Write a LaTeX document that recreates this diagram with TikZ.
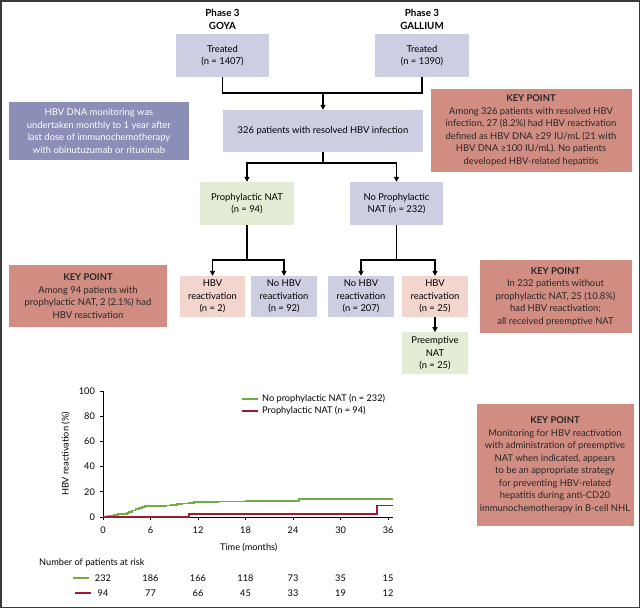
\documentclass[tikz,border=0pt]{standalone}
\usepackage{fontspec}
\setmainfont{Lato}
\setsansfont{Lato}
\usepackage{tikz}
\usetikzlibrary{positioning, arrows.meta}
\definecolor{lav}{HTML}{CDCEE1}
\definecolor{slate}{HTML}{8B8EB6}
\definecolor{mint}{HTML}{E3EDD5}
\definecolor{blush}{HTML}{F2D5CD}
\definecolor{salmon}{HTML}{D28D83}
\definecolor{kmgreen}{HTML}{6FAE45}
\definecolor{kmred}{HTML}{A3182F}
\definecolor{rim}{HTML}{3A3A3A}

\begin{document}
\begin{tikzpicture}[x=1pt, y=-1pt,
  font=\sffamily\fontsize{9.4}{12.5}\selectfont,
  every node/.style={align=center},
  box/.style={rectangle, fill=lav, inner sep=1pt, minimum height=43pt},
  sub/.style={box, minimum width=66pt, minimum height=41pt},
  keypt/.style={rectangle, fill=salmon, text=black!85, inner sep=0pt},
  head/.style={font=\sffamily\bfseries\fontsize{9.8}{13}\selectfont},
  link/.style={line width=1.2pt, draw=black},
  arr/.style={link, -{Triangle[length=5pt, width=5pt]}},
  kmg/.style={line width=1.8pt, draw=kmgreen},
  kmr/.style={line width=1.8pt, draw=kmred},
  tick/.style={font=\sffamily\fontsize{9.2}{10}\selectfont, inner sep=0pt}
]
  \useasboundingbox (0,0) rectangle (640,608);
  \draw[rim, line width=1.5pt] (0.75,0.75) rectangle (639.25,607.25);

  % trials
  \node[box, minimum width=93pt] (goya) at (222.5,55.5) {Treated\\(n = 1407)};
  \node[box, minimum width=94pt] (gallium) at (422,55.5) {Treated\\(n = 1390)};
  \node[head, above=1pt of goya] (goyaT) {Phase 3\\GOYA};
  \node[head, above=1pt of gallium] (galliumT) {Phase 3\\GALLIUM};

  \node[box, minimum width=200pt, minimum height=42pt] (n326) at (323,131)
    {326 patients with resolved HBV infection};
  \node[box, fill=slate, text=white, minimum width=180pt, minimum height=58pt] (monitor) at (99,131)
    {HBV DNA monitoring was\\undertaken monthly to 1 year after\\last dose of immunochemotherapy\\with obinutuzumab or rituximab};
  \node[keypt, minimum width=201pt, minimum height=83pt] (kp1) at (531,130.5)
    {\textbf{KEY POINT}\\Among 326 patients with resolved HBV\\infection, 27 (8.2\%) had HBV reactivation\\defined as HBV DNA ≥29 IU/mL (21 with\\HBV DNA ≥100 IU/mL). No patients\\developed HBV-related hepatitis};

  % NAT arms
  \node[box, fill=mint, minimum width=94pt] (proph) at (247,203.5) {Prophylactic NAT\\(n = 94)};
  \node[box, minimum width=93pt] (noproph) at (396.5,203.5) {No Prophylactic\\NAT (n = 232)};

  \node[sub, fill=blush, minimum width=65pt] (hbvA) at (212.5,296.5) {HBV\\reactivation\\(n = 2)};
  \node[sub] (nohbvA) at (284,296.5) {No HBV\\reactivation\\(n = 92)};
  \node[sub] (nohbvB) at (361,296.5) {No HBV\\reactivation\\(n = 207)};
  \node[sub, fill=blush] (hbvB) at (435,296.5) {HBV\\reactivation\\(n = 25)};
  \node[sub, fill=mint, minimum height=42pt, below=15pt of hbvB] (preempt) {Preemptive\\NAT\\(n = 25)};

  \node[keypt, minimum width=158pt, minimum height=62pt] (kp2) at (88,296)
    {\textbf{KEY POINT}\\Among 94 patients with\\prophylactic NAT, 2 (2.1\%) had\\HBV reactivation};
  \node[keypt, minimum width=152pt, minimum height=73pt] (kp3) at (555.5,296.5)
    {\textbf{KEY POINT}\\In 232 patients without\\prophylactic NAT, 25 (10.8\%)\\had HBV reactivation;\\all received preemptive NAT};
  \node[keypt, minimum width=157pt, minimum height=122pt] (kp4) at (555,465)
    {\textbf{KEY POINT}\\Monitoring for HBV reactivation\\with administration of preemptive\\NAT when indicated, appears\\to be an appropriate strategy\\for preventing HBV-related\\hepatitis during anti-CD20\\immunochemotherapy in B-cell NHL};

  % connectors
  \coordinate (j1) at (323,93);
  \coordinate (j2) at (323,163);
  \coordinate (j3) at (247,260);
  \coordinate (j4) at (396.5,260);
  \draw[link] (goya.south) |- (j1) -| (gallium.south);
  \draw[arr] (j1) -- (n326.north);
  \draw[link] (n326.south) -- (j2);
  \draw[arr] (j2) -| (proph.north);
  \draw[arr] (j2) -| (noproph.north);
  \draw[link] (proph.south) -- (j3);
  \draw[arr] (j3) -| (hbvA.north);
  \draw[arr] (j3) -| (nohbvA.north);
  \draw[link] (noproph.south) -- (j4);
  \draw[arr] (j4) -| (nohbvB.north);
  \draw[arr] (j4) -| (hbvB.north);
  \draw[arr] (hbvB.south) -- (preempt.north);

  % Kaplan-Meier plot
  \begin{scope}[shift={(103,517)}, x=7.92pt, y=1.26pt]
    \draw[line width=0.9pt] (0,0) -- (36.6,0);
    \draw[line width=0.9pt] (0,0) -- (0,100);
    \foreach \t in {0,6,...,36} {
      \draw[line width=0.8pt] (\t,0) -- (\t,-2.6);
      \node[tick] at (\t,-10.5) {\t};
    }
    \foreach \p in {0,20,...,100} {
      \draw[line width=0.8pt] (0,\p) -- (-0.4,\p);
      \node[tick, anchor=east] at (-1.0,\p) {\p};
    }
    \node[tick, rotate=90] (ylab) at (-4.7,50) {HBV reactivation (\%)};
    \node[tick] (xlab) at (18.4,-24) {Time (months)};

    \draw[kmg] (0,0) -| (0.6,0.5) -| (1.0,1.0) -| (1.4,1.6) -| (1.9,2.2) -| (2.4,2.7)
      -| (3.0,3.2) -| (3.3,4.1) -| (3.7,5.1) -| (4.1,6.1) -| (4.5,7.1) -| (4.9,8.0)
      -| (5.3,8.7) -| (8.0,9.1) -| (8.6,9.6) -| (9.3,10.1) -| (10.0,10.7)
      -| (10.8,11.3) -| (11.5,11.9) -| (14.5,12.3) -| (18.0,12.7)
      -| (24.7,14.3) -- (36.6,14.3);
    \draw[kmr] (0,0) -| (10.9,2.2) -| (34.6,9.2) -- (36.6,9.2);
  \end{scope}

  % legend
  \node[tick, anchor=west] (legG) at (262,399) {No prophylactic NAT (n = 232)};
  \node[tick, anchor=west] (legR) at (262,411) {Prophylactic NAT (n = 94)};
  \draw[kmg] ([xshift=-4pt]legG.west) -- ++(-16,0);
  \draw[kmr] ([xshift=-4pt]legR.west) -- ++(-16,0);

  % patients at risk
  \node[tick, anchor=west] (risk) at (39,563) {Number of patients at risk};
  \foreach \n [count=\i from 0] in {232,186,166,118,73,35,15}
    \node[tick] (rg\i) at ({103+47.5*\i},578) {\n};
  \foreach \n [count=\i from 0] in {94,77,66,45,33,19,12}
    \node[tick] (rr\i) at ({103+47.5*\i},593) {\n};
  \draw[kmg] ([xshift=-6pt]rg0.west) -- ++(-16,0);
  \draw[kmr] ([xshift=-6pt]rr0.west) -- ++(-16,0);
\end{tikzpicture}
\end{document}
